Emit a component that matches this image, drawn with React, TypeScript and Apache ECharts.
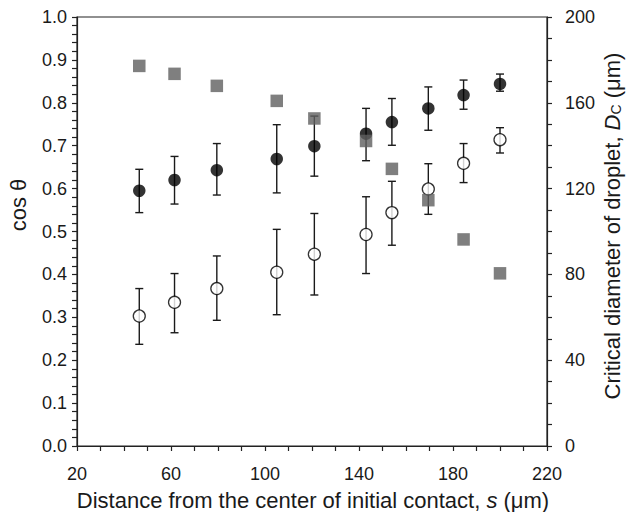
import React, { useEffect, useRef } from "react";
import * as echarts from "echarts";

const distance = [46.5, 61.5, 79.5, 105, 121, 143, 154, 169.5, 184.5, 200];

const filledMean = [0.595, 0.62, 0.643, 0.669, 0.699, 0.728, 0.755, 0.787, 0.818, 0.844];
const filledUpper = [0.645, 0.675, 0.705, 0.749, 0.769, 0.787, 0.81, 0.837, 0.853, 0.867];
const filledLower = [0.544, 0.564, 0.585, 0.59, 0.629, 0.665, 0.701, 0.736, 0.785, 0.827];

const openMean = [0.303, 0.335, 0.367, 0.405, 0.447, 0.493, 0.544, 0.599, 0.659, 0.714];
const openUpper = [0.367, 0.402, 0.443, 0.505, 0.542, 0.581, 0.617, 0.658, 0.705, 0.742];
const openLower = [0.237, 0.264, 0.293, 0.306, 0.352, 0.402, 0.468, 0.54, 0.614, 0.683];

const criticalDiameter = [177.2, 173.5, 167.9, 160.9, 152.7, 142.2, 129.2, 114.6, 96.3, 80.5];

const FONT = "'Liberation Sans', Arial, Helvetica, sans-serif";
const INK = "#1a1a1a";

function errorRender(params: any, api: any) {
  const x = api.value(0);
  const lo = api.coord([x, api.value(1)]);
  const hi = api.coord([x, api.value(2)]);
  const cap = 4;
  const style = { stroke: INK, lineWidth: 1.4 };
  return {
    type: "group",
    children: [
      { type: "line", shape: { x1: lo[0], y1: lo[1], x2: hi[0], y2: hi[1] }, style },
      { type: "line", shape: { x1: hi[0] - cap, y1: hi[1], x2: hi[0] + cap, y2: hi[1] }, style },
      { type: "line", shape: { x1: lo[0] - cap, y1: lo[1], x2: lo[0] + cap, y2: lo[1] }, style },
    ],
  };
}

export default function App() {
  const ref = useRef<HTMLDivElement>(null);
  useEffect(() => {
    if (!ref.current) return;
    const chart = echarts.init(ref.current, undefined, { renderer: "svg" });
    const axisLine = { show: true, lineStyle: { color: "#222", width: 1.2 } };
    const tickStyle = { color: "#222", width: 1.2 };
    chart.setOption({
      animation: false,
      backgroundColor: "#ffffff",
      grid: {
        left: 77,
        right: 79,
        top: 17,
        bottom: 66,
        show: true,
        borderColor: "#222",
        borderWidth: 1.2,
      },
      xAxis: {
        type: "value",
        min: 20,
        max: 220,
        interval: 40,
        axisLine: { ...axisLine, onZero: false },
        axisTick: { show: true, inside: false, length: 5, lineStyle: tickStyle },
        minorTick: { show: true, splitNumber: 4, length: 5, lineStyle: tickStyle },
        splitLine: { show: false },
        axisLabel: { color: INK, fontSize: 18, fontFamily: FONT, margin: 19 },
      },
      yAxis: [
        {
          type: "value",
          min: 0,
          max: 1,
          interval: 0.1,
          position: "left",
          axisLine,
          axisTick: { show: true, inside: false, length: 5, lineStyle: tickStyle },
          minorTick: { show: true, splitNumber: 5, length: 5, lineStyle: tickStyle },
          splitLine: { show: false },
          axisLabel: {
            color: INK,
            fontSize: 18,
            fontFamily: FONT,
            margin: 10,
            formatter: (v: number) => v.toFixed(1),
          },
        },
        {
          type: "value",
          min: 0,
          max: 200,
          interval: 40,
          position: "right",
          axisLine,
          axisTick: { show: true, inside: false, length: 5, lineStyle: tickStyle },
          minorTick: { show: true, splitNumber: 4, length: 5, lineStyle: tickStyle },
          splitLine: { show: false },
          axisLabel: { color: INK, fontSize: 18, fontFamily: FONT, margin: 18 },
        },
      ],
      graphic: [
        {
          type: "text",
          x: 313,
          y: 500,
          style: {
            text: "{a|Distance from the center of initial contact, }{i|s}{a| (μm)}",
            align: "center",
            verticalAlign: "middle",
            rich: {
              a: { fontSize: 22, fontFamily: FONT, fill: INK },
              i: { fontSize: 22, fontFamily: FONT, fontStyle: "italic", fill: INK },
            },
          },
        },
        {
          type: "text",
          x: 18,
          y: 205,
          rotation: Math.PI / 2,
          style: {
            text: "cos θ",
            fontSize: 22,
            fontFamily: FONT,
            fill: INK,
            align: "center",
            verticalAlign: "middle",
          },
        },
        {
          type: "text",
          x: 612,
          y: 226,
          rotation: Math.PI / 2,
          style: {
            text: "{a|Critical diameter of droplet, }{i|D}{s|C}{a| (μm)}",
            align: "center",
            verticalAlign: "middle",
            rich: {
              a: { fontSize: 22, fontFamily: FONT, fill: INK },
              i: { fontSize: 22, fontFamily: FONT, fontStyle: "italic", fill: INK },
              s: { fontSize: 14, fontFamily: FONT, fill: INK, verticalAlign: "bottom", padding: [6, 0, 0, 0] },
            },
          },
        },
      ],
      series: [
        {
          type: "custom",
          xAxisIndex: 0,
          yAxisIndex: 0,
          renderItem: errorRender,
          encode: { x: 0, y: [1, 2] },
          data: distance.map((x, i) => [x, filledLower[i], filledUpper[i]]),
          z: 2,
        },
        {
          type: "scatter",
          yAxisIndex: 0,
          symbol: "circle",
          symbolSize: 12.5,
          itemStyle: { color: "#000000" },
          data: distance.map((x, i) => [x, filledMean[i]]),
          z: 3,
        },
        {
          type: "custom",
          xAxisIndex: 0,
          yAxisIndex: 0,
          renderItem: errorRender,
          encode: { x: 0, y: [1, 2] },
          data: distance.map((x, i) => [x, openLower[i], openUpper[i]]),
          z: 2,
        },
        {
          type: "scatter",
          yAxisIndex: 0,
          symbol: "circle",
          symbolSize: 12,
          itemStyle: { color: "#ffffff", borderColor: "#000000", borderWidth: 1.3 },
          data: distance.map((x, i) => [x, openMean[i]]),
          z: 3,
        },
        {
          type: "scatter",
          yAxisIndex: 1,
          symbol: "rect",
          symbolSize: 12.5,
          itemStyle: { color: "#5f5f5f" },
          data: distance.map((x, i) => [x, criticalDiameter[i]]),
          z: 4,
        },
      ],
    });
    return () => chart.dispose();
  }, []);
  return (
    <div
      ref={ref}
      style={{ position: "fixed", left: 0, top: 0, width: 626, height: 512, background: "#fff" }}
    />
  );
}
